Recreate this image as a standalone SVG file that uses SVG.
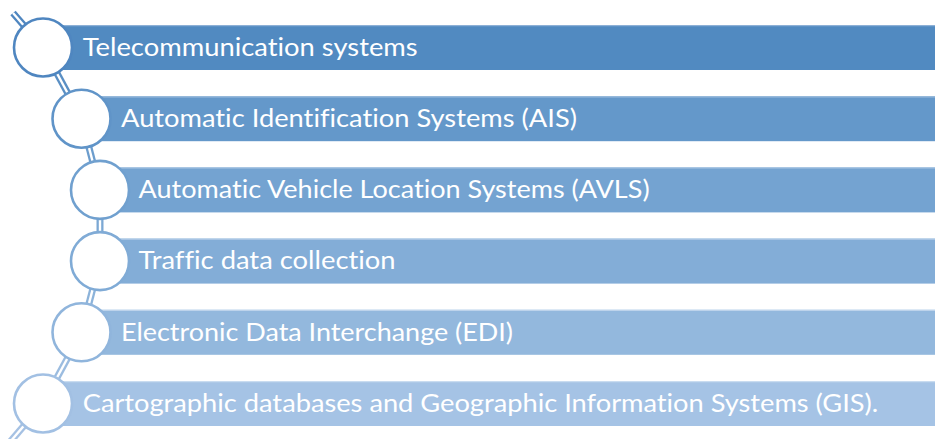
<svg xmlns="http://www.w3.org/2000/svg" width="935" height="439" viewBox="0 0 935 439">
<style>
.lbl{font-family:Lato,"Open Sans","Liberation Sans",sans-serif;font-size:25.5px;fill:#ffffff;font-variant-ligatures:none;font-feature-settings:"liga" 0,"clig" 0}
.ring{fill:#ffffff;stroke-width:2.6}
.outer{stroke-width:7;fill:none}
.inner{stroke:#ffffff;stroke-width:2.4;fill:none}
.hl{stroke-width:1.2}
</style>
<rect width="935" height="439" fill="#ffffff"/>
<g id="connectors">
<line class="outer" x1="13" y1="13" x2="43" y2="47.5" stroke="#4F86C0"/>
<line class="inner" x1="13" y1="13" x2="43" y2="47.5"/>
<line class="outer" x1="43" y1="47.5" x2="81.5" y2="118.7" stroke="#5A8FC4"/>
<line class="inner" x1="43" y1="47.5" x2="81.5" y2="118.7"/>
<line class="outer" x1="81.5" y1="118.7" x2="100" y2="189.9" stroke="#6C9DCD"/>
<line class="inner" x1="81.5" y1="118.7" x2="100" y2="189.9"/>
<line class="outer" x1="100" y1="189.9" x2="100" y2="261.1" stroke="#7CA8D4"/>
<line class="inner" x1="100" y1="189.9" x2="100" y2="261.1"/>
<line class="outer" x1="100" y1="261.1" x2="81.5" y2="332.3" stroke="#8CB3DA"/>
<line class="inner" x1="100" y1="261.1" x2="81.5" y2="332.3"/>
<line class="outer" x1="81.5" y1="332.3" x2="43" y2="403.5" stroke="#9BBCE0"/>
<line class="inner" x1="81.5" y1="332.3" x2="43" y2="403.5"/>
<line class="outer" x1="43" y1="403.5" x2="10" y2="442" stroke="#A5C1E3"/>
<line class="inner" x1="43" y1="403.5" x2="10" y2="442"/>
</g>
<g id="node1">
<rect x="63" y="25" width="872" height="45" fill="#518AC1"/>
<line class="hl" x1="63" y1="25.6" x2="935" y2="25.6" stroke="#8DB0D6"/>
<circle class="ring" cx="43" cy="47.5" r="29" stroke="#4F86C0"/>
<text class="lbl" x="82.7" y="55.7" textLength="335" lengthAdjust="spacingAndGlyphs">Telecommunication systems</text>
</g>
<g id="node2">
<rect x="100" y="96.2" width="835" height="45" fill="#6498CA"/>
<line class="hl" x1="100" y1="96.8" x2="935" y2="96.8" stroke="#9BBCDD"/>
<circle class="ring" cx="81.5" cy="118.7" r="29" stroke="#6094C8"/>
<text class="lbl" x="121" y="126.9" textLength="456" lengthAdjust="spacingAndGlyphs">Automatic Identification Systems (AIS)</text>
</g>
<g id="node3">
<rect x="120" y="167.4" width="815" height="45" fill="#74A3D1"/>
<line class="hl" x1="120" y1="168" x2="935" y2="168" stroke="#A8C6E3"/>
<circle class="ring" cx="100" cy="189.9" r="29" stroke="#70A0CF"/>
<text class="lbl" x="138.6" y="198.1" textLength="511" lengthAdjust="spacingAndGlyphs">Automatic Vehicle Location Systems (AVLS)</text>
</g>
<g id="node4">
<rect x="120" y="238.6" width="815" height="45" fill="#83ADD7"/>
<line class="hl" x1="120" y1="239.2" x2="935" y2="239.2" stroke="#B3CDE8"/>
<circle class="ring" cx="100" cy="261.1" r="29" stroke="#80ABD6"/>
<text class="lbl" x="138.6" y="269.3" textLength="257" lengthAdjust="spacingAndGlyphs">Traffic data collection</text>
</g>
<g id="node5">
<rect x="100" y="309.8" width="835" height="45" fill="#93B8DD"/>
<line class="hl" x1="100" y1="310.4" x2="935" y2="310.4" stroke="#BDD3EB"/>
<circle class="ring" cx="81.5" cy="332.3" r="29" stroke="#90B5DC"/>
<text class="lbl" x="121" y="340.5" textLength="392" lengthAdjust="spacingAndGlyphs">Electronic Data Interchange (EDI)</text>
</g>
<g id="node6">
<rect x="63" y="381" width="872" height="45" fill="#A5C3E5"/>
<line class="hl" x1="63" y1="381.6" x2="935" y2="381.6" stroke="#C9DCF0"/>
<circle class="ring" cx="43" cy="403.5" r="29" stroke="#A2C0E3"/>
<text class="lbl" x="82.7" y="411.7" textLength="795.6" lengthAdjust="spacingAndGlyphs">Cartographic databases and Geographic Information Systems (GIS).</text>
</g>
</svg>
